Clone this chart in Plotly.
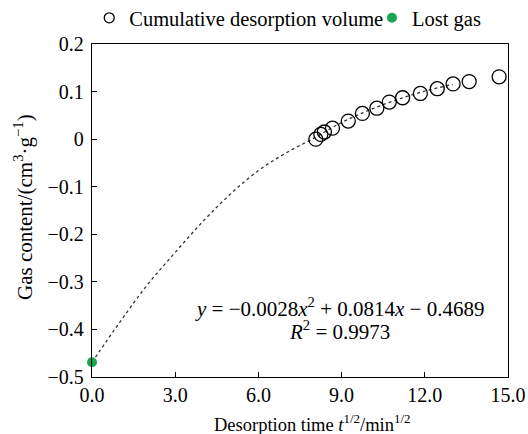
import plotly.graph_objects as go

# Cumulative desorption volume (measured)
desorp_x = [8.07, 8.25, 8.38, 8.67, 9.24, 9.75, 10.27, 10.72, 11.20, 11.84, 12.45, 13.02, 13.60, 14.68]
desorp_y = [0.000, 0.010, 0.015, 0.023, 0.038, 0.054, 0.065, 0.078, 0.087, 0.096, 0.106, 0.116, 0.121, 0.131]

# Lost gas
lost_x = [0.0]
lost_y = [-0.469]

# Fitted curve (dotted)
curve_x = [0, 1, 2, 3, 4, 5, 6, 7, 8, 9, 10, 11, 12, 13]
curve_y = [-0.469, -0.385, -0.306, -0.238, -0.173, -0.115, -0.066, -0.029, 0.002, 0.035, 0.061, 0.083, 0.101, 0.115]

x_ticks = [0, 3, 6, 9, 12, 15]
y_ticks = [0.2, 0.1, 0, -0.1, -0.2, -0.3, -0.4, -0.5]

FONT = "Liberation Serif, Times New Roman, serif"

fig = go.Figure()

fig.add_trace(go.Scatter(
    x=curve_x, y=curve_y, mode="lines", line=dict(color="#333333", width=1.3, dash="dot", shape="spline"),
    showlegend=False, hoverinfo="skip"))

fig.add_trace(go.Scatter(
    x=desorp_x, y=desorp_y, mode="markers",
    marker=dict(symbol="circle-open", size=14, color="black", line=dict(width=1.3)),
    showlegend=False, cliponaxis=False))

fig.add_trace(go.Scatter(
    x=lost_x, y=lost_y, mode="markers",
    marker=dict(symbol="circle", size=10, color="#1aa551"),
    showlegend=False, cliponaxis=False))

# legend entries
fig.add_trace(go.Scatter(
    x=[None], y=[None], mode="markers", name="Cumulative desorption volume", legend="legend",
    marker=dict(symbol="circle-open", size=10, color="black", line=dict(width=1.3))))
fig.add_trace(go.Scatter(
    x=[None], y=[None], mode="markers", name="Lost gas", legend="legend2",
    marker=dict(symbol="circle", size=10, color="#1aa551")))

# fit equation
fig.add_annotation(
    x=0.595, y=0.21, xref="paper", yref="paper", xanchor="center", yanchor="middle",
    showarrow=False,
    text="<i>y</i> = −0.0028<i>x</i><sup>2</sup> + 0.0814<i>x</i> − 0.4689",
    font=dict(family=FONT, size=21, color="black"))
fig.add_annotation(
    x=0.595, y=0.141, xref="paper", yref="paper", xanchor="center", yanchor="middle",
    showarrow=False, text="<i>R</i><sup>2</sup> = 0.9973",
    font=dict(family=FONT, size=21, color="black"))

# axis titles
fig.add_annotation(
    x=0.529, y=-0.137, xref="paper", yref="paper", xanchor="center", yanchor="middle",
    showarrow=False, text="Desorption time <i>t</i><sup>1/2</sup>/min<sup>1/2</sup>",
    font=dict(family=FONT, size=18.5, color="black"))
fig.add_annotation(
    x=-0.163, y=0.511, xref="paper", yref="paper", xanchor="center", yanchor="middle",
    showarrow=False, textangle=-90, text="Gas content/(cm<sup>3</sup>·g<sup>−1</sup>)",
    font=dict(family=FONT, size=21, color="black"))

axis_common = dict(
    showline=True, linecolor="black", linewidth=1.3, mirror=True,
    ticks="inside", ticklen=5, tickwidth=1.3, tickcolor="black",
    showgrid=False, zeroline=False, automargin=False,
    ticklabeloverflow="allow",
    tickfont=dict(family=FONT, size=20, color="black"),
)

fig.update_xaxes(range=[0, 15], tickvals=x_ticks, tickformat=".1f", ticklabelstandoff=0, **axis_common)
fig.update_yaxes(range=[-0.5, 0.2], tickvals=y_ticks, ticklabelstandoff=3, **axis_common)

leg_common = dict(orientation="h", xanchor="left", xref="container",
                  yanchor="middle", yref="container", y=0.9585,
                  font=dict(family=FONT, size=20.5, color="black"),
                  tracegroupgap=0, bgcolor="rgba(0,0,0,0)")

fig.update_layout(
    width=528, height=434,
    margin=dict(l=92, r=20, t=44, b=57),
    paper_bgcolor="white", plot_bgcolor="white",
    font=dict(family=FONT, size=20, color="black"),
    legend=dict(x=0.169, **leg_common),
    legend2=dict(x=0.7045, **leg_common),
)

fig.write_html("out.html",
               config={"displayModeBar": False},
               post_script="document.body.style.margin='0';document.body.style.overflow='hidden';")
